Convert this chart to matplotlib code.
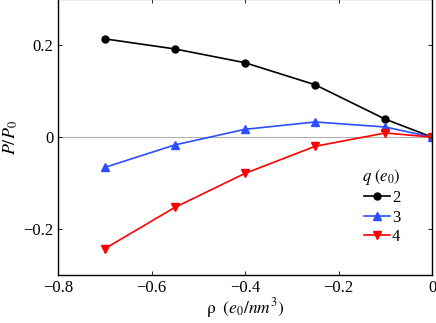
import numpy as np
import matplotlib
matplotlib.use("Agg")
import matplotlib.pyplot as plt

plt.rcParams['font.family'] = ['Liberation Serif', 'DejaVu Serif']
plt.rcParams['mathtext.fontset'] = 'stix'
plt.rcParams['xtick.direction'] = 'in'
plt.rcParams['ytick.direction'] = 'in'

# data
rho = [-0.7, -0.55, -0.4, -0.25, -0.1, 0.0]
p_q2 = [0.214, 0.192, 0.162, 0.114, 0.039, 0.0]
p_q3 = [-0.066, -0.017, 0.017, 0.033, 0.022, 0.0]
p_q4 = [-0.243, -0.153, -0.079, -0.020, 0.009, 0.0]
q_labels = ['2', '3', '4']

fig = plt.figure(figsize=(4.36, 3.23), dpi=100)
ax = fig.add_axes([0.133, 0.149, 0.858, 0.853])

ax.axhline(0, color='#b0b0b0', lw=0.8, zorder=1)
ax.plot(rho, p_q2, '-o', color='black', ms=5, lw=1.2, label=q_labels[0])
ax.plot(rho, p_q3, '-^', color='#2b4fff', ms=5.5, lw=1.2, label=q_labels[1])
ax.plot(rho, p_q4, '-v', color='#ff0000', ms=5.5, lw=1.2, label=q_labels[2])

ax.set_xlim(-0.8, 0)
ax.set_ylim(-0.3, 0.3)
ax.set_xticks([-0.8, -0.6, -0.4, -0.2, 0])
ax.set_xticklabels(['\u22120.8', '\u22120.6', '\u22120.4', '\u22120.2', '0'])
ax.set_yticks([-0.2, 0, 0.2])
ax.set_yticklabels(['\u22120.2', '0', '0.2'])
ax.tick_params(labelsize=12, top=True, right=True, length=3, width=0.6)
for s in ax.spines.values():
    s.set_linewidth(1.0)
ax.spines['top'].set_color('#999999')

ax.set_xlabel(r'$\mathrm{\rho}\ \ (e_0/nm^3)$', fontsize=12.5, labelpad=0)
ax.set_ylabel(r'$P/P_0$', fontsize=13, labelpad=2)

leg = ax.legend(title=r'$q\ (e_0)$', frameon=False, fontsize=12,
                title_fontsize=12, loc='center right',
                bbox_to_anchor=(0.955, 0.25), handlelength=1.6,
                handletextpad=0.1, labelspacing=0.2, markerfirst=True)
leg._legend_box.align = 'right'

fig.savefig('out.png', dpi=100)
